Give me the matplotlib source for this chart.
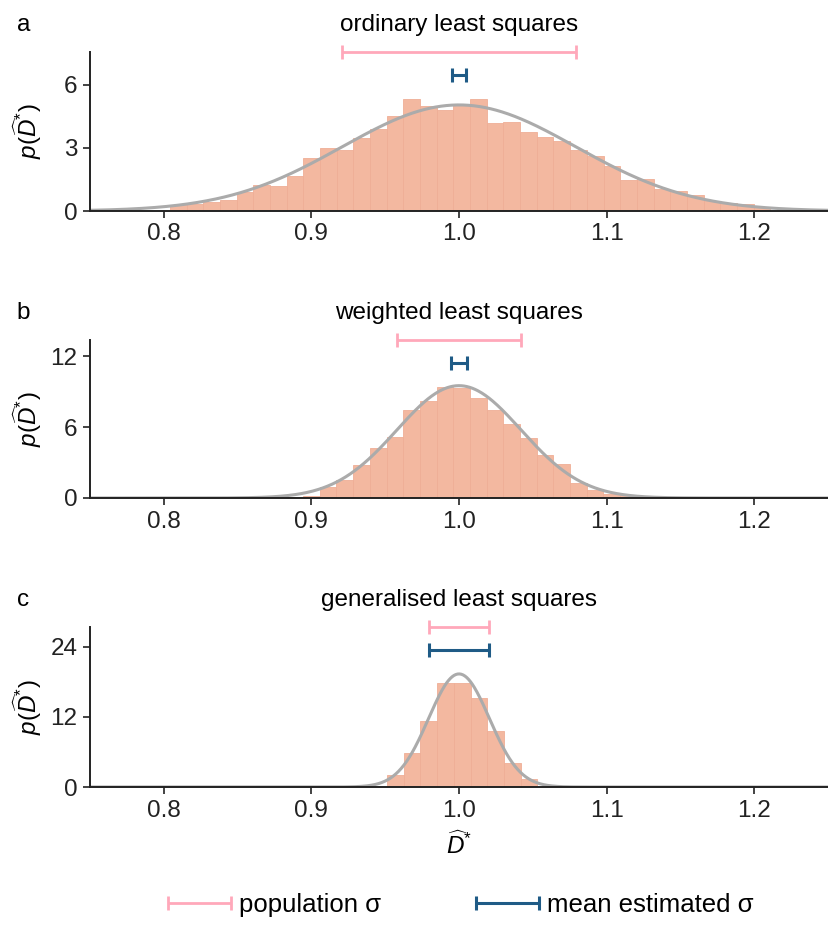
import numpy as np
import matplotlib
matplotlib.use("Agg")
import matplotlib.pyplot as plt
from matplotlib.container import ErrorbarContainer
from matplotlib.legend_handler import HandlerErrorbar
from matplotlib.transforms import offset_copy

plt.rcParams['font.family'] = ['Liberation Sans', 'DejaVu Sans']
plt.rcParams['mathtext.fontset'] = 'custom'
plt.rcParams['mathtext.rm'] = 'Liberation Sans'
plt.rcParams['mathtext.it'] = 'Liberation Sans:italic'
plt.rcParams['mathtext.bf'] = 'Liberation Sans:bold'

# ---- data ----
titles = ["ordinary least squares", "weighted least squares", "generalised least squares"]
letters = ["a", "b", "c"]
bin_width = 0.0113

ols_start = 0.8041
ols_heights = [0.30, 0.33, 0.45, 0.52, 0.89, 1.25, 1.19, 1.67, 2.51, 3.00,
               2.89, 3.48, 3.92, 4.54, 5.33, 4.98, 4.83, 5.08, 5.33, 4.17,
               4.25, 3.76, 3.54, 3.32, 2.89, 2.63, 2.16, 1.49, 1.54, 1.05,
               0.95, 0.78, 0.46, 0.38, 0.35, 0.19]

wls_start = 0.8831
wls_heights = [0.12, 0.20, 0.96, 1.52, 2.76, 4.20, 5.13, 7.46, 8.23, 9.41,
               9.30, 8.45, 7.46, 6.23, 5.07, 3.61, 2.90, 1.27, 0.70, 0.37, 0.23]

gls_start = 0.9513
gls_heights = [2.06, 5.83, 11.26, 17.77, 17.83, 15.31, 9.66, 4.17, 1.37]

true_mean = 1.0
population_sigma = [0.0790, 0.0420, 0.0206]
mean_est_sigma = [0.0045, 0.0055, 0.0206]

y_tops = [7.57, 13.36, 27.4]
y_ticks = [[0, 3, 6], [0, 6, 12], [0, 12, 24]]
x_ticks = [0.8, 0.9, 1.0, 1.1, 1.2]
legend_labels = ['population σ', 'mean estimated σ']

starts = [ols_start, wls_start, gls_start]
heights = [ols_heights, wls_heights, gls_heights]

# ---- style ----
bar_color = '#F3B8A0'
curve_color = '#ABABAB'
pink = '#FFA8BA'
blue = '#1F5B86'
fs = 17.5
fs_leg = 18.5

fig = plt.figure(figsize=(8.29, 9.46), dpi=100)
axes_pos = [
    [90/829, 1-211/946, 738/829, 159/946],
    [90/829, 1-498/946, 738/829, 158/946],
    [90/829, 1-787/946, 738/829, 160/946],
]

xs = np.linspace(0.75, 1.25, 800)
handles = None
for i in range(3):
    ax = fig.add_axes(axes_pos[i])
    h = np.array(heights[i])
    lefts = starts[i] + bin_width * np.arange(len(h))
    ax.bar(lefts, h, width=bin_width, align='edge', color=bar_color,
           edgecolor='#EFAE96', linewidth=0.6, zorder=1)
    s = population_sigma[i]
    pdf = np.exp(-0.5 * ((xs - true_mean) / s) ** 2) / (s * np.sqrt(2 * np.pi))
    ax.plot(xs, pdf, color=curve_color, lw=2.2, zorder=2, solid_capstyle='round')
    ax.set_xlim(0.75, 1.25)
    ax.set_ylim(0, y_tops[i])
    e1 = ax.errorbar([true_mean], [y_tops[i] * 1.0], xerr=[population_sigma[i]],
                     fmt='none', ecolor=pink, elinewidth=2, capsize=4.8,
                     capthick=2, clip_on=False, zorder=3, label=legend_labels[0])
    e2 = ax.errorbar([true_mean], [y_tops[i] * 0.855], xerr=[mean_est_sigma[i]],
                     fmt='none', ecolor=blue, elinewidth=2.2, capsize=4.8,
                     capthick=2.2, clip_on=False, zorder=3, label=legend_labels[1])
    for art in list(e1.lines[1]) + list(e1.lines[2]) + list(e2.lines[1]) + list(e2.lines[2]):
        art.set_clip_on(False)
    handles = [e1, e2]
    ax.set_yticks(y_ticks[i])
    ax.set_xticks(x_ticks)
    ax.set_xticklabels([f"{v:.1f}" for v in x_ticks])
    for sp in ['top', 'right']:
        ax.spines[sp].set_visible(False)
    for sp in ['left', 'bottom']:
        ax.spines[sp].set_linewidth(1.4)
        ax.spines[sp].set_color('#222222')
    ax.tick_params(axis='both', labelsize=fs, length=5, width=1.2, color='#222222',
                   labelcolor='#222222', pad=4)
    ax.set_ylabel(r'$p(\widehat{D}^{*})$', fontsize=fs)
    ax.yaxis.set_label_coords(-0.062, 0.5)
    ax.set_title(titles[i], fontsize=fs, pad=15)
    tr = offset_copy(ax.transAxes, fig=fig, x=0, y=15, units='points')
    ax.text(-0.099, 1.0, letters[i], transform=tr, fontsize=fs,
            ha='left', va='baseline')
    if i == 2:
        ax.set_xlabel(r'$\widehat{D}^{*}$', fontsize=fs, labelpad=7)

hl = 2.45
fig.legend(handles=handles, labels=legend_labels,
           loc='center', bbox_to_anchor=(461/829, 1-905/946), ncol=2, frameon=False,
           fontsize=fs_leg, handlelength=hl, columnspacing=3.7, handletextpad=0.3,
           handler_map={ErrorbarContainer: HandlerErrorbar(xerr_size=hl/2)})

fig.savefig('out.png', dpi=100)
